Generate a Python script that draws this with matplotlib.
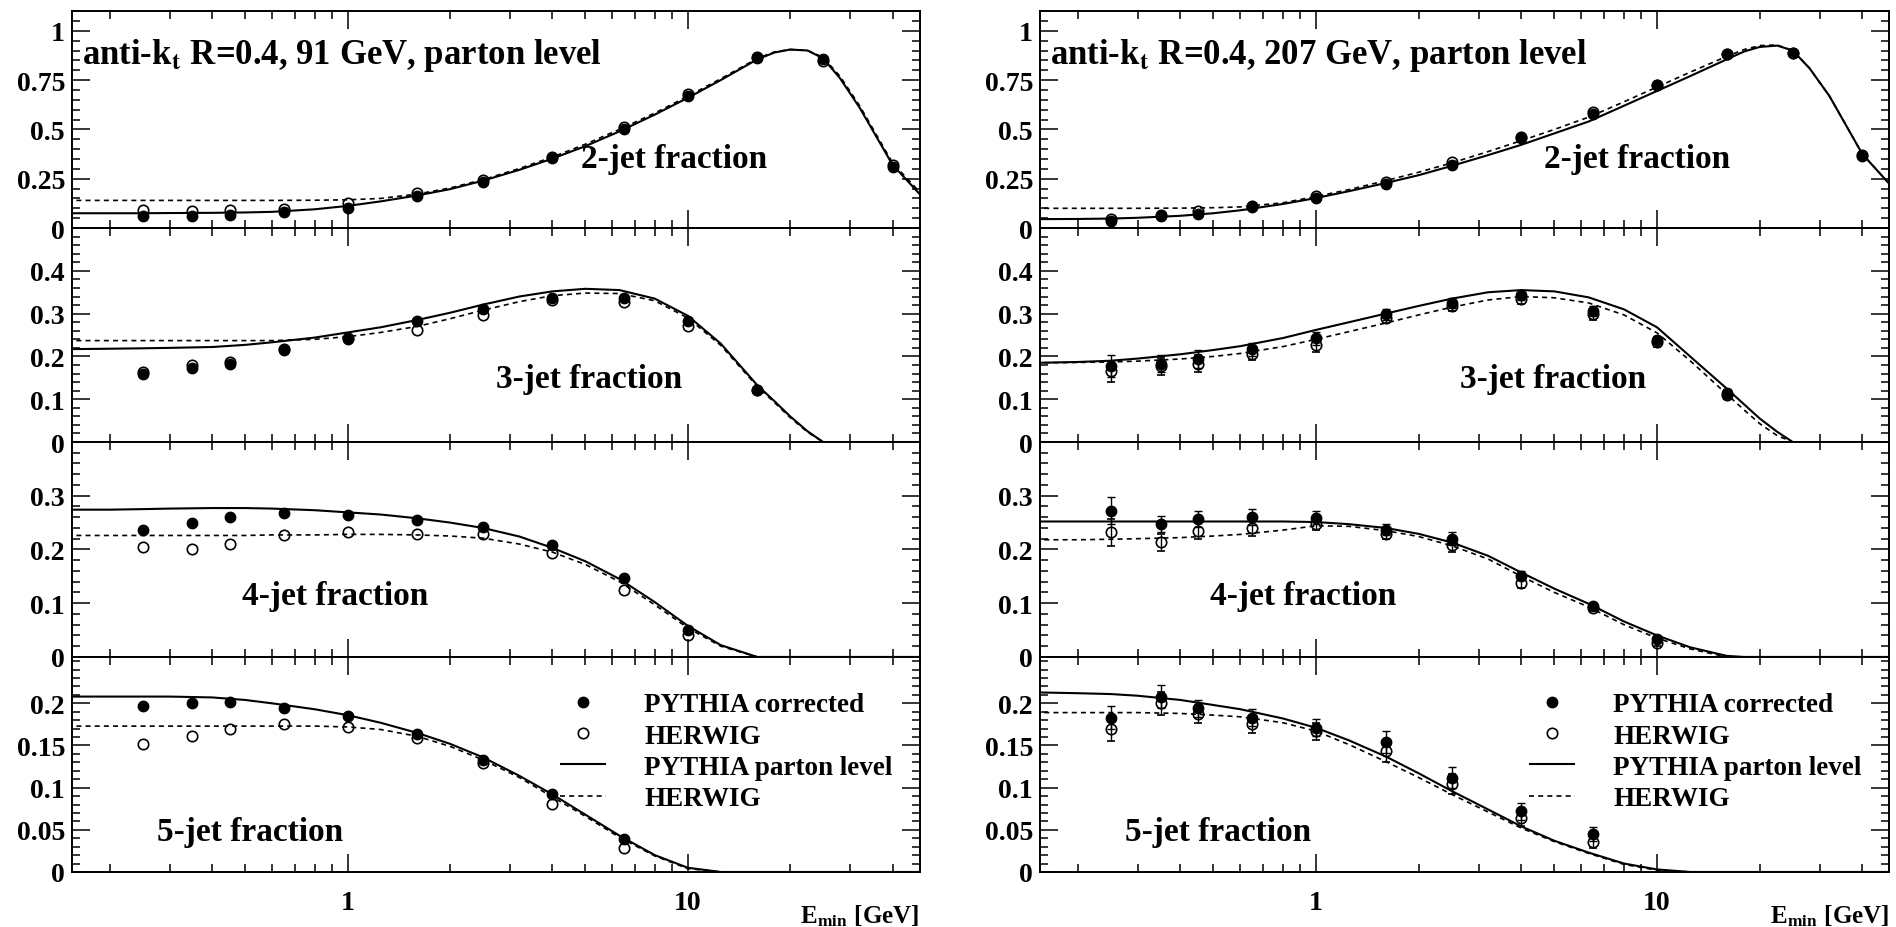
import matplotlib
matplotlib.use('Agg')
import matplotlib.pyplot as plt
from matplotlib.ticker import FixedLocator, LogLocator, NullFormatter, FuncFormatter, AutoMinorLocator

plt.rcParams['font.family'] = ['Liberation Serif', 'DejaVu Serif']
plt.rcParams['font.weight'] = 'bold'
plt.rcParams['mathtext.fontset'] = 'stix'
plt.rcParams['mathtext.default'] = 'bf'

# E_min values of the data points [GeV]
E_pts = [0.25, 0.35, 0.45, 0.65, 1.0, 1.6, 2.5, 4.0, 6.5, 10, 16, 25, 40]
E_curve = [0.15, 0.2, 0.25, 0.3, 0.4, 0.5, 0.6, 0.8, 1.0, 1.25, 1.6, 2.0, 2.5, 3.2, 4.0,
           5.0, 6.3, 8.0, 10, 12.5, 16, 18, 20, 22.5, 25, 28, 32, 40, 50]

# ---- 91 GeV ----
py91_2j = [0.063, 0.063, 0.068, 0.080, 0.102, 0.160, 0.233, 0.353, 0.500, 0.668, 0.864, 0.855, 0.310]
hw91_2j = [0.089, 0.085, 0.089, 0.097, 0.128, 0.177, 0.245, 0.361, 0.514, 0.681, 0.869, 0.847, 0.320]
py91_3j = [0.160, 0.173, 0.183, 0.216, 0.240, 0.283, 0.311, 0.336, 0.336, 0.283, 0.121]
hw91_3j = [0.163, 0.179, 0.187, 0.217, 0.242, 0.262, 0.296, 0.332, 0.327, 0.270, 0.121]
py91_4j = [0.237, 0.249, 0.261, 0.268, 0.264, 0.255, 0.242, 0.208, 0.146, 0.051]
hw91_4j = [0.205, 0.200, 0.210, 0.226, 0.232, 0.228, 0.228, 0.194, 0.125, 0.041]
py91_5j = [0.197, 0.200, 0.202, 0.194, 0.185, 0.164, 0.133, 0.092, 0.039]
hw91_5j = [0.152, 0.161, 0.169, 0.175, 0.172, 0.159, 0.129, 0.081, 0.028]

parton91_2j = [0.075, 0.075, 0.075, 0.076, 0.077, 0.079, 0.082, 0.095, 0.112, 0.135, 0.165, 0.197, 0.240, 0.295, 0.352,
               0.415, 0.490, 0.575, 0.660, 0.750, 0.855, 0.890, 0.905, 0.900, 0.860, 0.760, 0.610, 0.320, 0.140]
herwig91_2j = [0.140, 0.140, 0.140, 0.140, 0.140, 0.140, 0.140, 0.141, 0.143, 0.150, 0.172, 0.203, 0.245, 0.302, 0.360,
               0.425, 0.500, 0.583, 0.668, 0.757, 0.860, 0.893, 0.905, 0.900, 0.865, 0.770, 0.620, 0.330, 0.150]
parton91_3j = [0.217, 0.218, 0.219, 0.220, 0.222, 0.227, 0.233, 0.244, 0.256, 0.268, 0.285, 0.302, 0.321, 0.340, 0.352,
               0.358, 0.355, 0.335, 0.295, 0.230, 0.133, 0.095, 0.060, 0.025, 0.0, 0.0, 0.0, 0.0, 0.0]
herwig91_3j = [0.237, 0.237, 0.237, 0.237, 0.237, 0.237, 0.237, 0.240, 0.246, 0.256, 0.270, 0.288, 0.308, 0.328, 0.342,
               0.348, 0.347, 0.330, 0.290, 0.226, 0.130, 0.092, 0.057, 0.023, 0.0, 0.0, 0.0, 0.0, 0.0]
parton91_4j = [0.274, 0.274, 0.275, 0.276, 0.277, 0.277, 0.276, 0.273, 0.269, 0.265, 0.258, 0.250, 0.240, 0.224, 0.203,
               0.178, 0.145, 0.102, 0.058, 0.022, 0.0, 0.0, 0.0, 0.0, 0.0, 0.0, 0.0, 0.0, 0.0]
herwig91_4j = [0.226, 0.226, 0.226, 0.226, 0.226, 0.226, 0.227, 0.227, 0.228, 0.228, 0.227, 0.225, 0.221, 0.210, 0.195,
               0.172, 0.140, 0.097, 0.054, 0.020, 0.0, 0.0, 0.0, 0.0, 0.0, 0.0, 0.0, 0.0, 0.0]
parton91_5j = [0.208, 0.208, 0.208, 0.208, 0.207, 0.204, 0.200, 0.193, 0.186, 0.177, 0.165, 0.152, 0.136, 0.114, 0.092,
               0.068, 0.043, 0.020, 0.005, 0.0, 0.0, 0.0, 0.0, 0.0, 0.0, 0.0, 0.0, 0.0, 0.0]
herwig91_5j = [0.173, 0.173, 0.173, 0.173, 0.173, 0.173, 0.173, 0.173, 0.172, 0.169, 0.161, 0.149, 0.133, 0.112, 0.089,
               0.066, 0.041, 0.019, 0.004, 0.0, 0.0, 0.0, 0.0, 0.0, 0.0, 0.0, 0.0, 0.0, 0.0]

# ---- 207 GeV ----
py207_2j = [0.037, 0.060, 0.072, 0.106, 0.153, 0.225, 0.322, 0.455, 0.579, 0.724, 0.881, 0.889, 0.366]
hw207_2j = [0.046, 0.068, 0.085, 0.114, 0.160, 0.233, 0.336, 0.463, 0.586, 0.727, 0.881, 0.889, 0.370]
py207_3j = [0.178, 0.183, 0.194, 0.217, 0.242, 0.298, 0.325, 0.344, 0.306, 0.238, 0.114]
hw207_3j = [0.165, 0.177, 0.183, 0.206, 0.226, 0.290, 0.317, 0.334, 0.298, 0.233, 0.110]
err207_3j = [0.025, 0.020, 0.020, 0.015, 0.015, 0.012, 0.012, 0.012, 0.012, 0.010, 0.010]
py207_4j = [0.272, 0.248, 0.257, 0.261, 0.259, 0.237, 0.220, 0.151, 0.094, 0.033]
hw207_4j = [0.232, 0.213, 0.235, 0.240, 0.248, 0.229, 0.208, 0.137, 0.091, 0.026]
err207_4j = [0.025, 0.015, 0.015, 0.015, 0.012, 0.010, 0.012, 0.008, 0.006, 0.005]
py207_5j = [0.183, 0.208, 0.194, 0.183, 0.171, 0.154, 0.112, 0.072, 0.045]
hw207_5j = [0.169, 0.200, 0.187, 0.175, 0.167, 0.143, 0.104, 0.064, 0.036]
err207_5j = [0.014, 0.014, 0.010, 0.010, 0.010, 0.013, 0.012, 0.010, 0.008]

parton207_2j = [0.045, 0.046, 0.048, 0.052, 0.062, 0.075, 0.090, 0.122, 0.152, 0.187, 0.228, 0.268, 0.315, 0.370, 0.422,
                0.480, 0.540, 0.620, 0.695, 0.770, 0.855, 0.895, 0.918, 0.925, 0.900, 0.810, 0.670, 0.375, 0.190]
herwig207_2j = [0.100, 0.100, 0.100, 0.100, 0.101, 0.103, 0.107, 0.128, 0.160, 0.195, 0.240, 0.283, 0.330, 0.388, 0.443,
                0.500, 0.562, 0.640, 0.715, 0.790, 0.870, 0.905, 0.925, 0.928, 0.900, 0.810, 0.670, 0.375, 0.190]
parton207_3j = [0.185, 0.187, 0.190, 0.195, 0.205, 0.215, 0.224, 0.243, 0.262, 0.280, 0.300, 0.318, 0.335, 0.350, 0.355,
                0.352, 0.338, 0.310, 0.268, 0.200, 0.125, 0.088, 0.055, 0.024, 0.0, 0.0, 0.0, 0.0, 0.0]
herwig207_3j = [0.185, 0.186, 0.187, 0.189, 0.194, 0.200, 0.207, 0.223, 0.240, 0.258, 0.278, 0.297, 0.315, 0.332, 0.340,
                0.337, 0.325, 0.297, 0.255, 0.190, 0.112, 0.075, 0.043, 0.015, 0.0, 0.0, 0.0, 0.0, 0.0]
parton207_4j = [0.252, 0.252, 0.252, 0.252, 0.252, 0.252, 0.252, 0.252, 0.251, 0.247, 0.240, 0.229, 0.213, 0.188, 0.157,
                0.127, 0.099, 0.066, 0.040, 0.018, 0.002, 0.0, 0.0, 0.0, 0.0, 0.0, 0.0, 0.0, 0.0]
herwig207_4j = [0.218, 0.218, 0.219, 0.220, 0.222, 0.225, 0.228, 0.236, 0.244, 0.243, 0.235, 0.224, 0.207, 0.182, 0.150,
                0.120, 0.093, 0.060, 0.035, 0.015, 0.0, 0.0, 0.0, 0.0, 0.0, 0.0, 0.0, 0.0, 0.0]
parton207_5j = [0.213, 0.212, 0.211, 0.209, 0.204, 0.198, 0.193, 0.182, 0.171, 0.156, 0.137, 0.117, 0.096, 0.074, 0.054,
                0.037, 0.023, 0.010, 0.003, 0.0, 0.0, 0.0, 0.0, 0.0, 0.0, 0.0, 0.0, 0.0, 0.0]
herwig207_5j = [0.189, 0.189, 0.189, 0.189, 0.188, 0.186, 0.184, 0.177, 0.167, 0.151, 0.131, 0.112, 0.092, 0.071, 0.052,
                0.036, 0.022, 0.009, 0.002, 0.0, 0.0, 0.0, 0.0, 0.0, 0.0, 0.0, 0.0, 0.0, 0.0]

titles = ['anti-k$_t$ R=0.4, 91 GeV, parton level', 'anti-k$_t$ R=0.4, 207 GeV, parton level']
row_names = ['2-jet fraction', '3-jet fraction', '4-jet fraction', '5-jet fraction']
y_max = [1.1, 0.5, 0.4, 0.255]
y_ticks = [[0, 0.25, 0.5, 0.75, 1], [0, 0.1, 0.2, 0.3, 0.4], [0, 0.1, 0.2, 0.3], [0, 0.05, 0.1, 0.15, 0.2]]
name_pos = [[(0.60, 0.32), (0.50, 0.295), (0.20, 0.285), (0.10, 0.19)],
            [(0.593, 0.32), (0.495, 0.295), (0.20, 0.285), (0.10, 0.19)]]

columns = [
    dict(py=[py91_2j, py91_3j, py91_4j, py91_5j], hw=[hw91_2j, hw91_3j, hw91_4j, hw91_5j],
         err=[None, None, None, None],
         parton=[parton91_2j, parton91_3j, parton91_4j, parton91_5j],
         herwig=[herwig91_2j, herwig91_3j, herwig91_4j, herwig91_5j]),
    dict(py=[py207_2j, py207_3j, py207_4j, py207_5j], hw=[hw207_2j, hw207_3j, hw207_4j, hw207_5j],
         err=[None, err207_3j, err207_4j, err207_5j],
         parton=[parton207_2j, parton207_3j, parton207_4j, parton207_5j],
         herwig=[herwig207_2j, herwig207_3j, herwig207_4j, herwig207_5j]),
]

fig = plt.figure(figsize=(18.96, 9.28), dpi=100)
col_left = [0.038, 0.5485]
col_w = [0.447, 0.448]
row_bottom = [0.7532, 0.5226, 0.291, 0.0593]
row_h = [0.2338, 0.2306, 0.2317, 0.2317]

for c, col in enumerate(columns):
    for r in range(4):
        ax = fig.add_axes([col_left[c], row_bottom[r], col_w[c], row_h[r]])
        ax.set_xscale('log')
        ax.set_xlim(0.155, 48)
        ax.set_ylim(0, y_max[r])

        ax.plot(E_curve, col['parton'][r], color='black', lw=1.5, solid_capstyle='butt',
                label='PYTHIA parton level')
        ax.plot(E_curve, col['herwig'][r], color='black', lw=1.2, ls=(0, (3, 2.5)), label='HERWIG')

        n = len(col['py'][r])
        e = col['err'][r]
        pf = ax.errorbar(E_pts[:n], col['py'][r], yerr=e, fmt='o', ms=7.5, mfc='black', mec='black',
                         ecolor='black', elinewidth=1, capsize=3, label='PYTHIA corrected')
        po = ax.errorbar(E_pts[:n], col['hw'][r], yerr=e, fmt='o', ms=7.5, mfc='none', mec='black', mew=1.2,
                         ecolor='black', elinewidth=1, capsize=3, label='HERWIG')

        ax.yaxis.set_major_locator(FixedLocator(y_ticks[r]))
        ax.yaxis.set_minor_locator(AutoMinorLocator(5))
        ax.yaxis.set_major_formatter(FuncFormatter(lambda v, p: '%g' % v))
        ax.xaxis.set_major_locator(FixedLocator([1, 10]))
        ax.xaxis.set_minor_locator(LogLocator(base=10, subs=[2, 3, 4, 5, 6, 7, 8, 9], numticks=20))
        ax.xaxis.set_minor_formatter(NullFormatter())
        if r == 3:
            ax.xaxis.set_major_formatter(FuncFormatter(lambda v, p: '%g' % v))
            ax.text(1.0, -0.2, r'E$_{\rm min}$ [GeV]', transform=ax.transAxes, ha='right', va='center',
                    fontsize=18)
        else:
            ax.xaxis.set_major_formatter(NullFormatter())

        ax.tick_params(which='both', direction='in', top=True, right=True, labelsize=20, width=1.1)
        ax.tick_params(which='major', length=13)
        ax.tick_params(which='minor', length=6)
        ax.tick_params(axis='x', pad=13)
        ax.tick_params(axis='y', pad=5)
        for s in ax.spines.values():
            s.set_linewidth(1.4)

        ax.text(name_pos[c][r][0], name_pos[c][r][1], row_names[r], transform=ax.transAxes,
                ha='left', va='center', fontsize=24)
        if r == 0:
            ax.text(0.012, 0.80, titles[c], transform=ax.transAxes, ha='left', va='center', fontsize=25)
        if r == 3:
            lines = ax.get_lines()
            ax.legend([pf[0], po[0], lines[0], lines[1]],
                      ['PYTHIA corrected', 'HERWIG', 'PYTHIA parton level', 'HERWIG'],
                      loc='upper left', bbox_to_anchor=(0.576, 0.835), frameon=False, fontsize=19.5,
                      handlelength=1.7, handletextpad=1.4, labelspacing=0.23, borderpad=0, borderaxespad=0)

fig.savefig('out.png', dpi=100)
